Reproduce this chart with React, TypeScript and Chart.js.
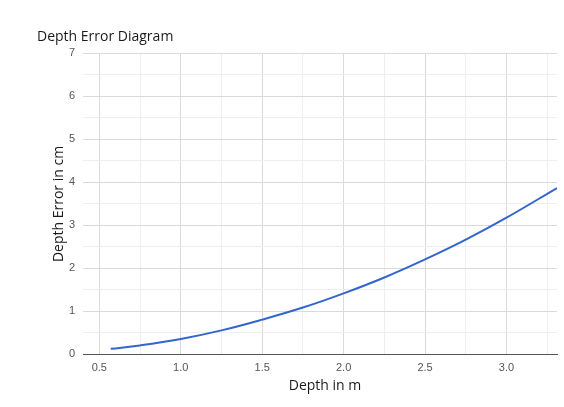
import React, { useEffect, useRef } from "react";
import { Chart, registerables } from "chart.js";

Chart.register(...registerables);

const depthM = [0.57, 0.75, 1.0, 1.25, 1.5, 1.75, 2.0, 2.25, 2.5, 2.75, 3.0, 3.31];
const errorCm = [0.12, 0.2, 0.35, 0.55, 0.8, 1.08, 1.41, 1.78, 2.2, 2.66, 3.17, 3.86];
const xTicks = [0.5, 0.75, 1.0, 1.25, 1.5, 1.75, 2.0, 2.25, 2.5, 2.75, 3.0, 3.25];
const yTicks = [0, 0.5, 1, 1.5, 2, 2.5, 3, 3.5, 4, 4.5, 5, 5.5, 6, 6.5, 7];
const chartTitle = "Depth Error Diagram";
const xTitle = "Depth in m";
const yTitle = "Depth Error in cm";

const titlePlugin = {
  id: "customTitles",
  afterDraw(chart: any) {
    const ctx = chart.ctx;
    const area = chart.chartArea;
    ctx.save();
    ctx.fillStyle = "#1a1a1a";
    ctx.font = "14px 'Open Sans'";
    ctx.textAlign = "left";
    ctx.textBaseline = "alphabetic";
    ctx.fillText(chartTitle, 37, 41);
    ctx.font = "14px 'Open Sans'";
    ctx.textAlign = "center";
    ctx.fillText(xTitle, 325, 390);
    ctx.translate(63, 204);
    ctx.rotate(-Math.PI / 2);
    ctx.fillText(yTitle, 0, 0);
    ctx.restore();
  },
};

export default function App() {
  const ref = useRef<HTMLCanvasElement>(null);
  useEffect(() => {
    if (!ref.current) return;
    const chart = new Chart(ref.current, {
      type: "line",
      data: {
        datasets: [
          {
            data: depthM.map((d, i) => ({ x: d, y: errorCm[i] })),
            borderColor: "#3366cc",
            borderWidth: 2,
            pointRadius: 0,
            tension: 0.4,
            fill: false,
          },
        ],
      },
      options: {
        animation: false,
        responsive: false,
        layout: { padding: { top: 53, right: 7, left: 0, bottom: 0 } },
        plugins: {
          legend: { display: false },
          title: { display: false },
          tooltip: { enabled: false },
        },
        scales: {
          x: {
            type: "linear",
            min: 0.4,
            max: 3.31,
            afterBuildTicks(scale: any) {
              scale.ticks = xTicks.map((v) => ({ value: v }));
            },
            afterFit(scale: any) {
              scale.height = 53;
            },
            ticks: {
              autoSkip: false,
              maxRotation: 0,
              padding: 7,
              color: "#555555",
              font: { family: "Arial, 'Liberation Sans'", size: 11 },
              callback: (v: any) => (Math.abs((v * 2) - Math.round(v * 2)) < 1e-6 ? Number(v).toFixed(1) : ""),
            },
            grid: {
              drawTicks: false,
              color: (c: any) => {
                const v = c.tick ? c.tick.value : 0;
                return Math.abs(v * 2 - Math.round(v * 2)) < 1e-6 ? "#dadada" : "#eeeeee";
              },
            },
            border: { display: true, color: "#555555", width: 1 },
          },
          y: {
            type: "linear",
            min: 0,
            max: 7,
            afterBuildTicks(scale: any) {
              scale.ticks = yTicks.map((v) => ({ value: v }));
            },
            afterFit(scale: any) {
              scale.width = 83;
            },
            ticks: {
              autoSkip: false,
              padding: 8,
              color: "#555555",
              font: { family: "Arial, 'Liberation Sans'", size: 11 },
              callback: (v: any) => (Number.isInteger(v) ? String(v) : ""),
            },
            grid: {
              drawTicks: false,
              color: (c: any) => {
                const v = c.tick ? c.tick.value : 0;
                return Number.isInteger(v) ? "#dadada" : "#eeeeee";
              },
            },
            border: { display: false },
          },
        },
      },
      plugins: [titlePlugin],
    });
    return () => chart.destroy();
  }, []);
  return (
    <div style={{ position: "fixed", left: 0, top: 0, width: 564, height: 407, background: "#ffffff" }}>
      <canvas ref={ref} width={564} height={407} style={{ display: "block" }} />
    </div>
  );
}
